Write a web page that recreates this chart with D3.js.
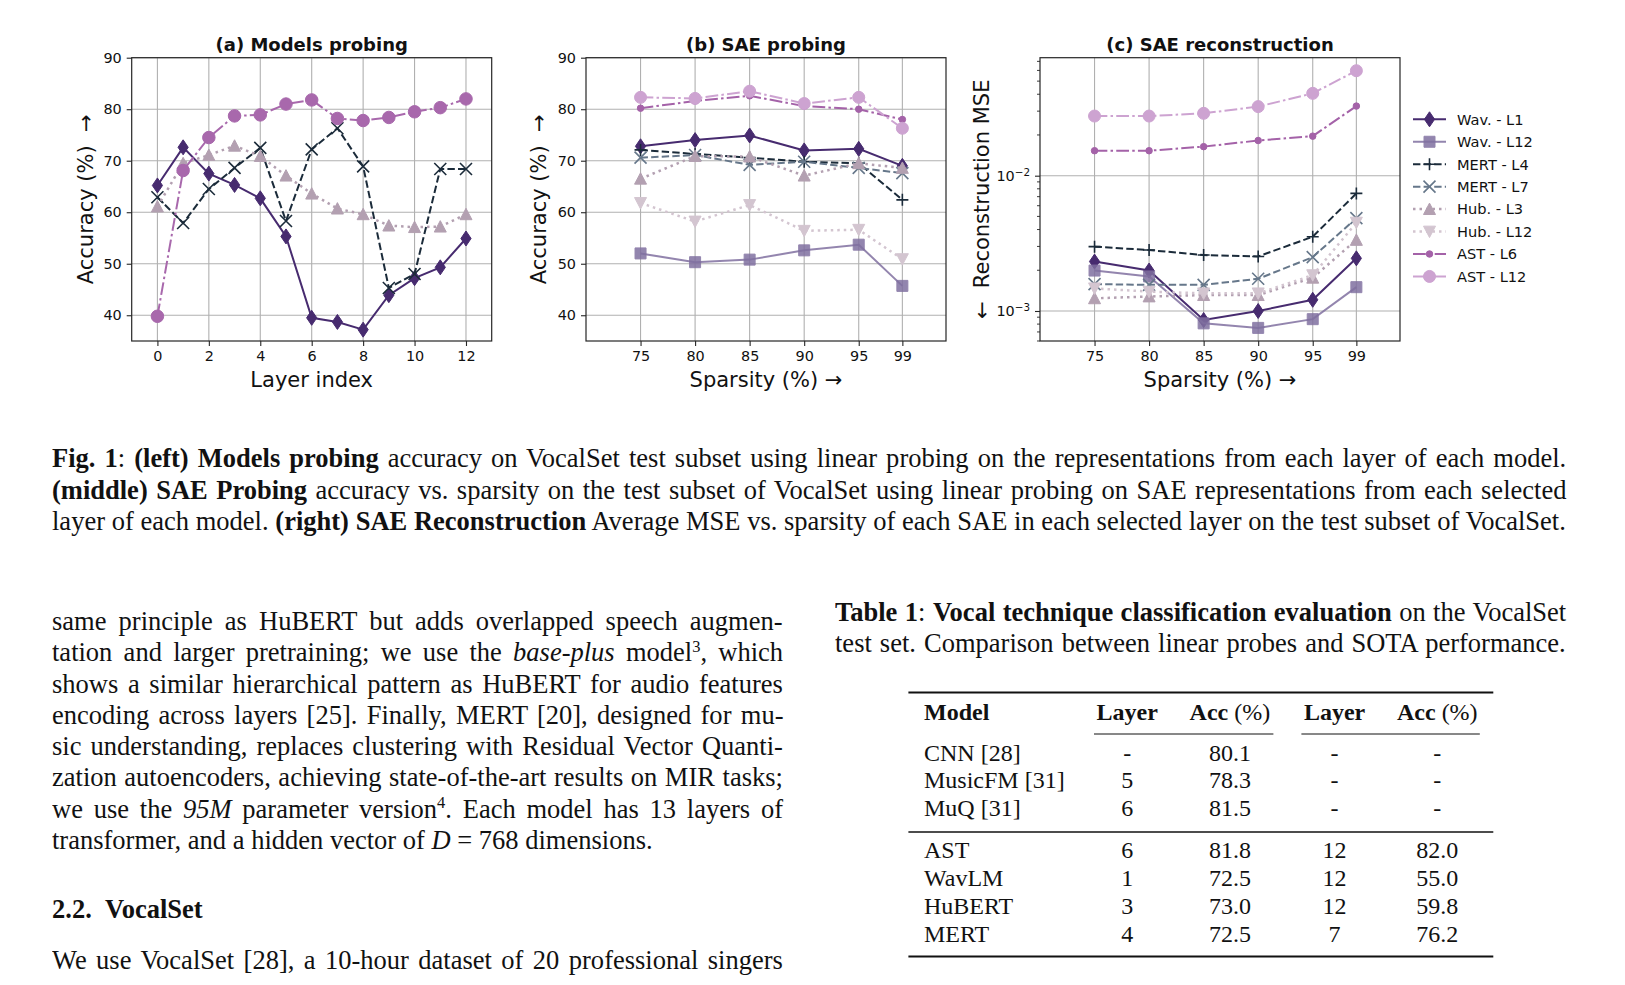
<!DOCTYPE html>
<html>
<head>
<meta charset="utf-8">
<script src="https://cdn.jsdelivr.net/npm/d3@7"></script>
<style>
  body { margin: 0; background: #fff; width: 1625px; height: 985px; overflow: hidden; position: relative; }
  svg { position: absolute; left: 0; top: 0; }
  .ln { position: absolute; white-space: nowrap; font-family: "Liberation Serif", "Times New Roman", serif; color: #111; transform-origin: 0 0; }
  .ln sup { font-size: 0.62em; line-height: 0; vertical-align: 0; position: relative; top: -0.55em; }
</style>
</head>
<body>
<script>
// ---- data ----
const layerIdx = [0, 1, 2, 3, 4, 5, 6, 7, 8, 9, 10, 11, 12];
const layerTicks = [0, 2, 4, 6, 8, 10, 12];
const sparsity = [75, 80, 85, 90, 95, 99];
const accTicks = [40, 50, 60, 70, 80, 90];
const mseTicks = [1e-3, 1e-2];

// (a) models probing, accuracy per layer
const probeWavLM  = [65.2, 72.6, 67.5, 65.3, 62.7, 55.3, 39.5, 38.7, 37.2, 43.9, 47.2, 49.3, 54.9];
const probeMERT   = [62.9, 57.9, 64.5, 68.6, 72.5, 58.3, 72.2, 76.3, 68.9, 45.3, 48.0, 68.4, 68.4];
const probeHuBERT = [61.1, 69.5, 71.1, 72.9, 70.9, 67.1, 63.6, 60.7, 59.6, 57.4, 57.1, 57.2, 59.6];
const probeAST    = [39.8, 68.1, 74.5, 78.7, 78.9, 81.0, 81.8, 78.2, 77.8, 78.4, 79.5, 80.3, 82.0];

// (b) SAE probing, accuracy per sparsity
const saeAccWavL1   = [72.8, 74.0, 74.9, 72.0, 72.3, 69.0];
const saeAccWavL12  = [52.0, 50.3, 50.8, 52.6, 53.7, 45.7];
const saeAccMertL4  = [72.1, 71.3, 70.6, 69.8, 69.5, 62.4];
const saeAccMertL7  = [70.6, 71.1, 69.2, 69.8, 68.6, 67.6];
const saeAccHubL3   = [66.5, 70.9, 70.8, 67.1, 69.5, 68.6];
const saeAccHubL12  = [61.8, 58.2, 61.4, 56.4, 56.6, 50.9];
const saeAccAstL6   = [80.2, 81.6, 82.6, 80.6, 80.0, 78.0];
const saeAccAstL12  = [82.3, 82.1, 83.5, 81.1, 82.3, 76.3];

// (c) SAE reconstruction MSE per sparsity
const mseWavL1  = [0.00232, 0.00199, 0.000857, 0.00100, 0.00121, 0.00245];
const mseWavL12 = [0.00199, 0.00180, 0.00081, 0.00075, 0.00087, 0.00150];
const mseMertL4 = [0.00299, 0.00282, 0.00259, 0.00253, 0.00354, 0.00740];
const mseMertL7 = [0.00158, 0.00156, 0.00156, 0.00173, 0.00250, 0.00486];
const mseHubL3  = [0.00124, 0.00128, 0.00131, 0.00131, 0.00176, 0.00335];
const mseHubL12 = [0.00147, 0.00139, 0.00135, 0.00135, 0.00184, 0.00450];
const mseAstL6  = [0.0153, 0.0153, 0.0164, 0.0182, 0.0196, 0.0327];
const mseAstL12 = [0.0276, 0.0276, 0.0289, 0.0324, 0.0406, 0.0597];

const seriesNames = ['Wav. - L1', 'Wav. - L12', 'MERT - L4', 'MERT - L7', 'Hub. - L3', 'Hub. - L12', 'AST - L6', 'AST - L12'];

// table
const tableHead = ['Model', 'Layer', 'Acc', 'Layer', 'Acc'];
const tableModels = ['CNN [28]', 'MusicFM [31]', 'MuQ [31]', 'AST', 'WavLM', 'HuBERT', 'MERT'];
const tableLayerA = ['-', '5', '6', '6', '1', '3', '4'];
const tableAccA   = ['80.1', '78.3', '81.5', '81.8', '72.5', '73.0', '72.5'];
const tableLayerB = ['-', '-', '-', '12', '12', '12', '7'];
const tableAccB   = ['-', '-', '-', '82.0', '55.0', '59.8', '76.2'];

// ---- styles ----
const DASH = '7.4,3.2', DOT = '2.5,4', DASHDOT = '12.8,3.2,2.5,3.2';
const st = {
  'Wav. - L1':  { color: '#472b6f', dash: null,    marker: 'diamond', size: 15 },
  'Wav. - L12': { color: '#8070a0', dash: null,    marker: 'square',  size: 11, alpha: 0.85 },
  'MERT - L4':  { color: '#1b2b3a', dash: DASH,    marker: 'plus',    size: 12 },
  'MERT - L7':  { color: '#66778a', dash: DASH,    marker: 'x',       size: 12 },
  'Hub. - L3':  { color: '#b3a0b1', dash: DOT,     marker: 'triUp',   size: 12, lw: 2.5 },
  'Hub. - L12': { color: '#d3c5d0', dash: DOT,     marker: 'triDown', size: 12, lw: 2.5 },
  'AST - L6':   { color: '#a462a8', dash: DASHDOT, marker: 'circle',  size: 6.5 },
  'AST - L12':  { color: '#cda3d1', dash: DASHDOT, marker: 'circle',  size: 12 }
};
const stA = {
  wav:  { color: '#472b6f', dash: null,    marker: 'diamond', size: 15 },
  mert: { color: '#1b2b3a', dash: DASH,    marker: 'x',       size: 12 },
  hub:  { color: '#b3a0b1', dash: DOT,     marker: 'triUp',   size: 12, lw: 2.5 },
  ast:  { color: '#a868ac', dash: DASHDOT, marker: 'circle',  size: 12.5 }
};

const W = 1625, H = 985;
const TOP = 57.7, PW = 360, PH = 283.3;
const FONT = '"DejaVu Sans", sans-serif';
const AX = '#262626';

const svg = d3.select('body').append('svg').attr('width', W).attr('height', H);

function markerPath(type, s) {
  const h = s / 2;
  switch (type) {
    case 'diamond': return `M0,${-h}L${h * 0.68},0L0,${h}L${-h * 0.68},0Z`;
    case 'square':  return `M${-h},${-h}H${h}V${h}H${-h}Z`;
    case 'triUp':   return `M0,${-h}L${h},${h * 0.9}L${-h},${h * 0.9}Z`;
    case 'triDown': return `M0,${h}L${h},${-h * 0.9}L${-h},${-h * 0.9}Z`;
    case 'plus':    return `M${-h},0H${h}M0,${-h}V${h}`;
    case 'x':       return `M${-h},${-h}L${h},${h}M${-h},${h}L${h},${-h}`;
    default:        return d3.symbol(d3.symbolCircle, Math.PI * h * h)();
  }
}

function drawMarker(g, s, px, py) {
  const open = s.marker === 'plus' || s.marker === 'x';
  g.append('path')
    .attr('transform', `translate(${px},${py})`)
    .attr('d', markerPath(s.marker, s.size))
    .attr('fill', open ? 'none' : s.color)
    .attr('stroke', s.color)
    .attr('stroke-width', open ? 1.6 : 1)
    .attr('opacity', s.alpha || 1);
}

function drawSeries(g, x, y, xs, vals, s) {
  const line = d3.line().x((d, i) => x(xs[i])).y(d => y(d));
  g.append('path').datum(vals)
    .attr('d', line)
    .attr('fill', 'none')
    .attr('stroke', s.color)
    .attr('stroke-width', s.lw || 2)
    .attr('stroke-dasharray', s.dash)
    .attr('opacity', s.alpha || 1);
  vals.forEach((v, i) => drawMarker(g, s, x(xs[i]), y(v)));
}

function panel(o) {
  const g = svg.append('g').attr('transform', `translate(${o.left},${TOP})`);
  const x = o.x, y = o.y;

  // grid
  const grid = g.append('g').attr('stroke', '#b0b0b0').attr('stroke-width', 1.1);
  o.xTicks.forEach(t => grid.append('line').attr('x1', x(t)).attr('x2', x(t)).attr('y1', 0).attr('y2', PH));
  o.yTicks.forEach(t => grid.append('line').attr('x1', 0).attr('x2', PW).attr('y1', y(t)).attr('y2', y(t)));

  // data
  const data = g.append('g');
  o.series.forEach(sr => drawSeries(data, x, y, o.xs, sr.vals, sr.style));

  // spines
  g.append('rect').attr('width', PW).attr('height', PH)
    .attr('fill', 'none').attr('stroke', AX).attr('stroke-width', 1.2);

  // axes
  const xa = g.append('g').attr('transform', `translate(0,${PH})`)
    .call(d3.axisBottom(x).tickValues(o.xTicks).tickSize(5).tickPadding(5).tickSizeOuter(0));
  const ya = g.append('g')
    .call(d3.axisLeft(y).tickValues(o.yTicks).tickSize(5).tickPadding(5).tickSizeOuter(0)
      .tickFormat(o.yFormat || d3.format('d')));
  [xa, ya].forEach(a => {
    a.attr('font-family', FONT).attr('font-size', 14.4);
    a.select('.domain').remove();
    a.selectAll('line').attr('stroke', AX).attr('stroke-width', 1.1);
    a.selectAll('text').attr('fill', '#111');
  });
  if (o.log) {
    ya.selectAll('.tick text').each(function (d) {
      const t = d3.select(this);
      t.text(null);
      t.append('tspan').text('10');
      t.append('tspan').attr('dy', '-0.5em').attr('font-size', '0.72em').text('\u2212' + Math.round(-Math.log10(d)));
    });
    y.ticks().filter(t => !mseTicks.some(m => Math.abs(m - t) / m < 1e-6)).forEach(t => {
      g.append('line').attr('x1', -3).attr('x2', 0).attr('y1', y(t)).attr('y2', y(t))
        .attr('stroke', AX).attr('stroke-width', 0.9);
    });
  }

  // title and labels
  g.append('text').attr('x', PW / 2).attr('y', 50.5 - TOP)
    .attr('text-anchor', 'middle').attr('font-family', FONT).attr('font-weight', 'bold')
    .attr('font-size', 18).attr('fill', '#111').text(o.title);
  g.append('text').attr('x', PW / 2).attr('y', 387 - TOP)
    .attr('text-anchor', 'middle').attr('font-family', FONT)
    .attr('font-size', 21).attr('fill', '#111').text(o.xLabel);
  g.append('text')
    .attr('transform', `translate(${o.yLabelX},${PH / 2}) rotate(-90)`)
    .attr('dy', '0.35em').attr('text-anchor', 'middle').attr('font-family', FONT)
    .attr('font-size', 21).attr('fill', '#111').style('white-space', 'pre').text(o.yLabel);
}

// (a)
const xA = d3.scaleLinear().domain([-1, 13]).range([0, PW]);
const yAcc = d3.scaleLinear().domain([35, 90]).range([PH, 0]);
panel({
  left: 131.7, x: xA, y: yAcc, xs: layerIdx, xTicks: layerTicks, yTicks: accTicks,
  title: '(a) Models probing', xLabel: 'Layer index', yLabel: 'Accuracy (%)  \u2192', yLabelX: 86 - 131.7,
  series: [
    { vals: probeWavLM, style: stA.wav },
    { vals: probeMERT, style: stA.mert },
    { vals: probeHuBERT, style: stA.hub },
    { vals: probeAST, style: stA.ast }
  ]
});

// (b)
const xS = d3.scaleLinear().domain([70, 103]).range([0, PW]);
const accB = [saeAccWavL1, saeAccWavL12, saeAccMertL4, saeAccMertL7, saeAccHubL3, saeAccHubL12, saeAccAstL6, saeAccAstL12];
panel({
  left: 586, x: xS, y: yAcc, xs: sparsity, xTicks: sparsity, yTicks: accTicks,
  title: '(b) SAE probing', xLabel: 'Sparsity (%)  \u2192', yLabel: 'Accuracy (%)  \u2192', yLabelX: 538.5 - 586,
  series: accB.map((v, i) => ({ vals: v, style: st[seriesNames[i]] }))
});

// (c)
const yMse = d3.scaleLog().domain([6.0e-4, 7.45e-2]).range([PH, 0]);
const mseC = [mseWavL1, mseWavL12, mseMertL4, mseMertL7, mseHubL3, mseHubL12, mseAstL6, mseAstL12];
panel({
  left: 1040, x: xS, y: yMse, xs: sparsity, xTicks: sparsity, yTicks: mseTicks, log: true,
  title: '(c) SAE reconstruction', xLabel: 'Sparsity (%)  \u2192', yLabel: '\u2190  Reconstruction MSE', yLabelX: 982 - 1040,
  series: mseC.map((v, i) => ({ vals: v, style: st[seriesNames[i]] }))
});

// legend
const leg = svg.append('g');
seriesNames.forEach((n, i) => {
  const s = st[n];
  const cy = 119.3 + i * 22.45;
  leg.append('line').attr('x1', 1413).attr('x2', 1446).attr('y1', cy).attr('y2', cy)
    .attr('stroke', s.color).attr('stroke-width', s.lw || 2)
    .attr('stroke-dasharray', s.dash).attr('opacity', s.alpha || 1);
  drawMarker(leg, s, 1429.5, cy);
  leg.append('text').attr('x', 1457).attr('y', cy + 5.3)
    .attr('font-family', FONT).attr('font-size', 14.6).attr('fill', '#111').text(n);
});

// ---- text blocks ----
const SERIF = '"Liberation Serif", "Times New Roman", serif';
const SX = 0.975;   // slight horizontal condensing of the serif text
function textLine(x, base, w, fs, html, justify) {
  const d = d3.select('body').append('div').attr('class', 'ln')
    .style('left', x + 'px').style('top', (base - 0.8375 * fs) + 'px')
    .style('font-size', fs + 'px').style('line-height', fs + 'px')
    .style('transform', `scaleX(${SX})`)
    .html(html);
  if (justify) {
    const nat = d.node().offsetWidth;
    const spaces = (d.node().textContent.match(/ /g) || []).length;
    if (spaces) d.style('word-spacing', ((w / SX - nat) / spaces) + 'px');
  }
}

const FS = 27.2;
const LEFT = 51.9, COLW = 731, RIGHT = 834.8;
const capLines = [
  '<b>Fig. 1</b>: <b>(left) Models probing</b> accuracy on VocalSet test subset using linear probing on the representations from each layer of each model.',
  '<b>(middle) SAE Probing</b> accuracy vs. sparsity on the test subset of VocalSet using linear probing on SAE representations from each selected',
  'layer of each model. <b>(right) SAE Reconstruction</b> Average MSE vs. sparsity of each SAE in each selected layer on the test subset of VocalSet.'
];
capLines.forEach((t, i) => textLine(LEFT, 468 + i * 31.3, 1514, FS, t, true));

const bodyLines = [
  'same principle as HuBERT but adds overlapped speech augmen-',
  'tation and larger pretraining; we use the <i>base-plus</i> model<sup>3</sup>, which',
  'shows a similar hierarchical pattern as HuBERT for audio features',
  'encoding across layers [25]. Finally, MERT [20], designed for mu-',
  'sic understanding, replaces clustering with Residual Vector Quanti-',
  'zation autoencoders, achieving state-of-the-art results on MIR tasks;',
  'we use the <i>95M</i> parameter version<sup>4</sup>. Each model has 13 layers of',
  'transformer, and a hidden vector of <i>D</i>&nbsp;=&nbsp;768 dimensions.'
];
bodyLines.forEach((t, i) => textLine(LEFT, 631 + i * 31.25, COLW, FS, t, i < bodyLines.length - 1));
textLine(LEFT, 918.5, 0, FS, '<b>2.2.&nbsp;&nbsp;VocalSet</b>', false);
textLine(LEFT, 969.5, COLW, FS, 'We use VocalSet [28], a 10-hour dataset of 20 professional singers', true);

textLine(RIGHT, 621.5, COLW, FS, '<b>Table 1</b>: <b>Vocal technique classification evaluation</b> on the VocalSet', true);
textLine(RIGHT, 652.8, COLW, FS, 'test set. Comparison between linear probes and SOTA performance.', true);

// ---- table ----
const tb = svg.append('g').attr('font-family', SERIF).attr('font-size', 24).attr('fill', '#111');
const colX = [924, 1127.2, 1229.9, 1334.6, 1437.3];
const rowBase = [760.5, 787.5, 815.5, 857.5, 885.5, 913.5, 941.5];
const TL = 908.4, TR = 1493.3;
tb.append('line').attr('x1', TL).attr('x2', TR).attr('y1', 692.5).attr('y2', 692.5).attr('stroke', '#111').attr('stroke-width', 2.2);
tb.append('line').attr('x1', 1094).attr('x2', 1273.4).attr('y1', 734).attr('y2', 734).attr('stroke', '#111').attr('stroke-width', 1);
tb.append('line').attr('x1', 1301.4).attr('x2', 1479.8).attr('y1', 734).attr('y2', 734).attr('stroke', '#111').attr('stroke-width', 1);
tb.append('line').attr('x1', TL).attr('x2', TR).attr('y1', 832).attr('y2', 832).attr('stroke', '#111').attr('stroke-width', 1.4);
tb.append('line').attr('x1', TL).attr('x2', TR).attr('y1', 956.5).attr('y2', 956.5).attr('stroke', '#111').attr('stroke-width', 2.2);

tableHead.forEach((h, j) => {
  const t = tb.append('text').attr('x', colX[j]).attr('y', 719.5)
    .attr('text-anchor', j === 0 ? 'start' : 'middle');
  t.append('tspan').attr('font-weight', 'bold').text(h);
  if (h === 'Acc') t.append('tspan').text(' (%)');
});
const cols = [tableModels, tableLayerA, tableAccA, tableLayerB, tableAccB];
cols.forEach((col, j) => {
  col.forEach((v, i) => {
    tb.append('text').attr('x', colX[j]).attr('y', rowBase[i])
      .attr('text-anchor', j === 0 ? 'start' : 'middle').text(v);
  });
});
</script>
</body>
</html>
